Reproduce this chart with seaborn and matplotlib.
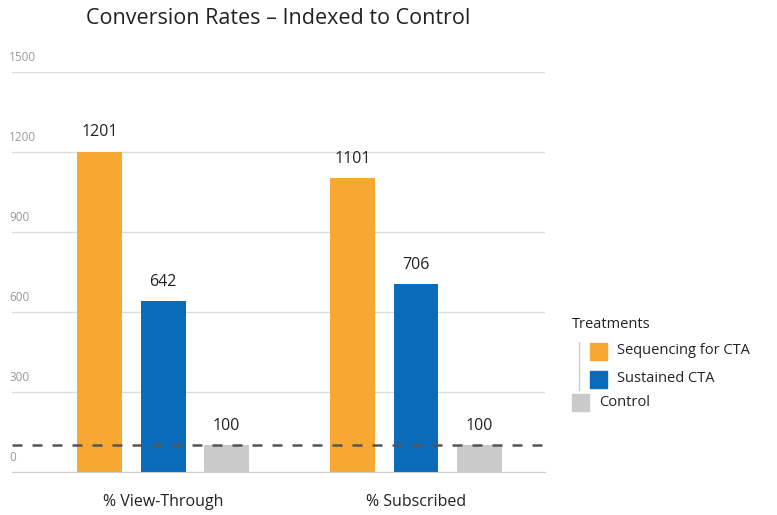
import numpy as np
import pandas as pd
import matplotlib.pyplot as plt
from matplotlib.patches import Rectangle
from matplotlib.lines import Line2D
import seaborn as sns

# data
metrics = ["% View-Through", "% Subscribed"]
treatments = ["Sequencing for CTA", "Sustained CTA", "Control"]
sequencing = [1201, 1101]
sustained = [642, 706]
control = [100, 100]
yticks = [0, 300, 600, 900, 1200, 1500]
palette = ["#F6A832", "#0A6BBA", "#CACACA"]

df = pd.DataFrame({
    "metric": metrics * 3,
    "treatment": np.repeat(treatments, len(metrics)),
    "value": sequencing + sustained + control,
})

sns.set_style("white")
plt.rcParams["font.family"] = ["Open Sans", "DejaVu Sans"]

fig = plt.figure(figsize=(7.77, 5.15), dpi=100)
ax = fig.add_axes([0.0155, 0.0835, 0.686, 0.777])

sns.barplot(data=df, x="metric", y="value", hue="treatment",
            palette=palette, saturation=1, width=0.75, gap=0.29,
            legend=False, linewidth=0, ax=ax)

for cont in ax.containers:
    ax.bar_label(cont, fmt="%d", padding=8, fontsize=11.5, color="#222222")

ax.set_ylim(0, 1500)
ax.set_xlim(-0.597, 1.51)
ax.set_yticks(yticks)
ax.set_yticklabels([])
ax.tick_params(axis="y", length=0)
ax.tick_params(axis="x", length=0, pad=16, labelsize=11.5, labelcolor="#222222")
ax.set_xlabel("")
ax.set_ylabel("")
ax.grid(axis="y", color="#DDDDDD", linewidth=1)
ax.set_axisbelow(True)
for s in ["top", "right", "left"]:
    ax.spines[s].set_visible(False)
ax.spines["bottom"].set_color("#CFCFCF")

# tick values sit above the gridlines, inside the plot
for v in yticks:
    ax.text(-0.005, v + 30, str(v), transform=ax.get_yaxis_transform(),
            ha="left", va="bottom", fontsize=8.5, color="#9A9A9A")

# control baseline
ax.axhline(control[0], color="#555555", linestyle=(0, (4, 4)), linewidth=1.8, zorder=5)

fig.suptitle("Conversion Rates \u2013 Indexed to Control", x=0.358, y=0.985,
             fontsize=15.5, color="#222222")

# legend drawn in figure pixels
H = 515.0
W = 777.0
def fx(px):
    return px / W
def fy(py):
    return 1 - py / H

fig.text(fx(572), fy(325), "Treatments", fontsize=10.5, color="#222222", va="center")
sq = 17
items = [(590, 351), (590, 379), (572, 402)]
for (x0, yc), name, col in zip(items, treatments, palette):
    fig.add_artist(Rectangle((fx(x0), fy(yc + sq / 2)), sq / W, sq / H,
                             transform=fig.transFigure, color=col))
    fig.text(fx(x0 + sq + 10), fy(yc), name, fontsize=10.5, color="#222222", va="center")
fig.add_artist(Line2D([fx(579), fx(579)], [fy(342), fy(390)],
                      transform=fig.transFigure, color="#CCCCCC", linewidth=1))

fig.savefig("out.png", dpi=100)
